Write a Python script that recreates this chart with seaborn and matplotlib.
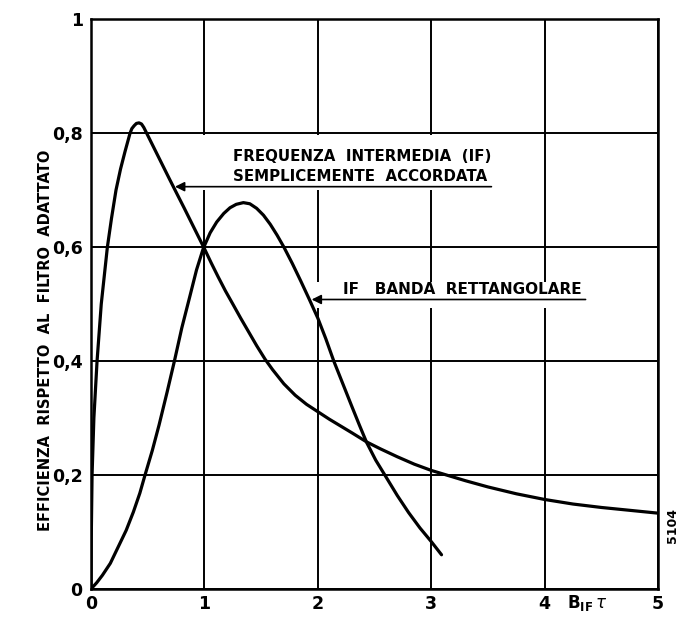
import matplotlib

matplotlib.use("Agg")
import matplotlib.pyplot as plt
import pandas as pd
import seaborn as sns
from matplotlib.patches import Rectangle

# efficiency vs B_IF * tau
x_single = [0, 0.002, 0.009, 0.025, 0.053, 0.09, 0.144, 0.18, 0.22, 0.26, 0.3,
            0.344, 0.36, 0.38, 0.40, 0.423, 0.445, 0.465, 0.49, 0.55, 0.62, 0.69,
            0.756, 0.82, 0.88, 0.94, 1.0, 1.06, 1.12, 1.185, 1.25, 1.32, 1.39,
            1.46, 1.535, 1.6, 1.7, 1.8, 1.9, 2.0, 2.1, 2.2, 2.3, 2.43, 2.55,
            2.7, 2.85, 3.0, 3.15, 3.3, 3.5, 3.75, 4.0, 4.25, 4.5, 4.75, 5.0]
eff_single = [0, 0.09, 0.2, 0.3, 0.4, 0.5, 0.6, 0.65, 0.7, 0.737, 0.768,
              0.8, 0.808, 0.813, 0.817, 0.818, 0.816, 0.81, 0.8, 0.776, 0.748, 0.72,
              0.694, 0.669, 0.645, 0.621, 0.597, 0.572, 0.548, 0.523, 0.5, 0.475, 0.451,
              0.427, 0.403, 0.385, 0.36, 0.34, 0.324, 0.311, 0.298, 0.286, 0.274, 0.258, 0.246,
              0.232, 0.219, 0.208, 0.199, 0.19, 0.179, 0.167, 0.157, 0.149, 0.143, 0.138, 0.133]

x_rect = [0, 0.05, 0.1, 0.17, 0.24, 0.31, 0.373, 0.43, 0.476, 0.54, 0.6, 0.67,
          0.735, 0.8, 0.873, 0.93, 0.99, 1.05, 1.108, 1.17, 1.225, 1.28, 1.343,
          1.4, 1.46, 1.52, 1.58, 1.64, 1.7, 1.775, 1.85, 1.925, 2.0, 2.07, 2.14,
          2.22, 2.3, 2.365, 2.43, 2.51, 2.59, 2.7, 2.8, 2.9, 3.0, 3.09]
eff_rect = [0, 0.011, 0.024, 0.045, 0.074, 0.103, 0.135, 0.168, 0.2, 0.243, 0.288, 0.345,
            0.4, 0.458, 0.515, 0.56, 0.598, 0.625, 0.644, 0.659, 0.669, 0.675, 0.678,
            0.676, 0.668, 0.656, 0.64, 0.621, 0.6, 0.571, 0.54, 0.508, 0.475, 0.439, 0.4,
            0.36, 0.32, 0.288, 0.257, 0.226, 0.2, 0.164, 0.134, 0.107, 0.083, 0.06]

x_ticks = [0, 1, 2, 3, 4, 5]
y_ticks = [0, 0.2, 0.4, 0.6, 0.8, 1.0]
y_tick_labels = ["0", "0,2", "0,4", "0,6", "0,8", "1"]

single_df = pd.DataFrame({"b_tau": x_single, "eff": eff_single})
rect_df = pd.DataFrame({"b_tau": x_rect, "eff": eff_rect})

sns.set_theme(style="white")
plt.rcParams["font.family"] = ["DejaVu Sans"]
plt.rcParams["mathtext.fontset"] = "dejavusans"
plt.rcParams["text.color"] = "black"
plt.rcParams["axes.labelcolor"] = "black"

fig = plt.figure(figsize=(6.95, 6.18), dpi=100)
ax = fig.add_axes([0.131, 0.047, 0.816, 0.922])

sns.lineplot(data=single_df, x="b_tau", y="eff", ax=ax, color="black",
             lw=2.3, sort=False, estimator=None, zorder=3)
sns.lineplot(data=rect_df, x="b_tau", y="eff", ax=ax, color="black",
             lw=2.3, sort=False, estimator=None, zorder=3)

ax.set_xlim(0, 5)
ax.set_ylim(0, 1)
ax.set_xticks(x_ticks)
ax.set_xticklabels([str(t) for t in x_ticks], fontweight="bold")
ax.set_yticks(y_ticks)
ax.set_yticklabels(y_tick_labels, fontweight="bold")
ax.set_xlabel("")
ax.set_ylabel("EFFICIENZA  RISPETTO  AL  FILTRO  ADATTATO", fontsize=10.5,
              fontweight="bold")
ax.yaxis.set_label_coords(-0.067, 0.437)

ax.grid(True, color="black", lw=1.4)
ax.set_axisbelow(True)
for sp in ax.spines.values():
    sp.set_color("black")
    sp.set_linewidth(1.8)
ax.tick_params(length=0, labelsize=12.5, colors="black")
ax.tick_params(axis="y", pad=6)
ax.tick_params(axis="x", pad=4)

# white boxes behind the labels, like the original lettering
ax.add_patch(Rectangle((0.75, 0.70), 2.82, 0.097, facecolor="white",
                       edgecolor="none", zorder=1))
ax.add_patch(Rectangle((1.95, 0.493), 2.45, 0.046, facecolor="white",
                       edgecolor="none", zorder=1))

ax.text(1.252, 0.742, "FREQUENZA  INTERMEDIA  (IF)\nSEMPLICEMENTE  ACCORDATA",
        fontsize=10.8, fontweight="bold", va="center", ha="left",
        linespacing=1.4, zorder=4)
ax.annotate("", xy=(0.74, 0.706), xytext=(3.53, 0.706),
            arrowprops=dict(arrowstyle="-|>", color="black", lw=1.2,
                            mutation_scale=14, shrinkA=0, shrinkB=0), zorder=4)

ax.text(2.222, 0.525, "IF   BANDA  RETTANGOLARE", fontsize=11, fontweight="bold",
        va="center", ha="left", zorder=4)
ax.annotate("", xy=(1.945, 0.508), xytext=(4.36, 0.508),
            arrowprops=dict(arrowstyle="-|>", color="black", lw=1.2,
                            mutation_scale=14, shrinkA=0, shrinkB=0), zorder=4)

fig.text(0.845, 0.024, r"$\mathbf{B_{IF}}\,\tau$", fontsize=12,
         ha="center", va="center")
fig.text(0.967, 0.150, "5104", fontsize=9, fontweight="bold", rotation=90,
         ha="center", va="center")

fig.savefig("out.png", dpi=100, facecolor="white")
